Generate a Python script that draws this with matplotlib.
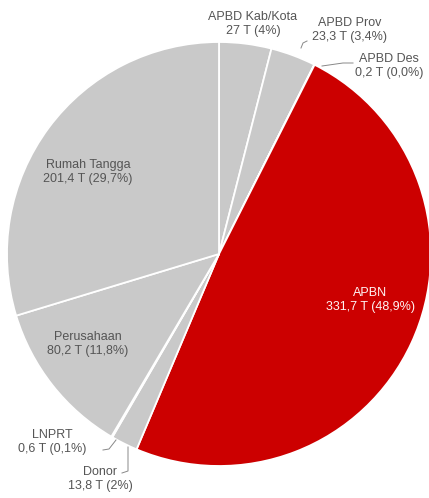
import matplotlib
matplotlib.use("Agg")
import matplotlib.pyplot as plt

# Sumber pembiayaan kesehatan (triliun rupiah)
sources = ["APBD Kab/Kota", "APBD Prov", "APBD Des", "APBN",
           "Donor", "LNPRT", "Perusahaan", "Rumah Tangga"]
values = [27.0, 23.3, 0.2, 331.7, 13.8, 0.6, 80.2, 201.4]
value_text = ["27", "23,3", "0,2", "331,7", "13,8", "0,6", "80,2", "201,4"]
pct_text = ["4%", "3,4%", "0,0%", "48,9%", "2%", "0,1%", "11,8%", "29,7%"]

GRAY = "#c9c9c9"
RED = "#cc0000"
colors = [RED if s == "APBN" else GRAY for s in sources]

W, H = 429, 498
fig = plt.figure(figsize=(W / 100, H / 100), dpi=100)
ax = fig.add_axes([0, 0, 1, 1])

cx, cy, r = 219, H - 254, 212
ax.pie(values, colors=colors, startangle=90, counterclock=False,
       center=(cx, cy), radius=r, frame=False,
       wedgeprops=dict(edgecolor="white", linewidth=1.3))
ax.set_xlim(0, W)
ax.set_ylim(0, H)
ax.set_aspect("equal")
ax.axis("off")

font = dict(family=["Liberation Sans", "DejaVu Sans"], fontsize=9.0,
            ha="center", va="center", linespacing=1.15)

def label(i):
    return f"{sources[i]}\n{value_text[i]} T ({pct_text[i]})"

# label anchor points (pixels from top-left)
pos = {
    "APBD Kab/Kota": (253, 24),
    "APBD Prov": (350, 30),
    "APBD Des": (389, 66),
    "APBN": (370, 300),
    "Donor": (100, 479),
    "LNPRT": (52, 442),
    "Perusahaan": (88, 344),
    "Rumah Tangga": (88, 172),
}
for i, s in enumerate(sources):
    x, y = pos[s]
    color = "#fff4f4" if s == "APBN" else "#555555"
    ax.text(x, H - y, label(i), color=color, **font)

# leader lines for the thin slices
line = dict(color="#888888", linewidth=0.7)
ax.plot([301, 303, 307], [H - 48, H - 43, H - 41], **line)
ax.plot([322, 343, 353], [H - 66, H - 63, H - 63], **line)
ax.plot([103, 109, 116], [H - 450, H - 449, H - 440], **line)
ax.plot([122, 128, 128], [H - 473, H - 471, H - 447], **line)

fig.savefig("out.png", dpi=100)
